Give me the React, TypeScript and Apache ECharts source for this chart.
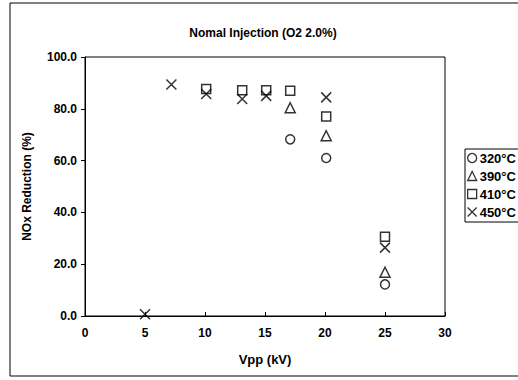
import React, { useEffect, useRef } from "react";
import * as echarts from "echarts";

const seriesNames = ["320°C", "390°C", "410°C", "450°C"];
const s320: [number, number][] = [
  [17.1, 68.2],
  [20.1, 61.0],
  [25.0, 12.2],
];
const s390: [number, number][] = [
  [17.1, 80.4],
  [20.1, 69.6],
  [25.0, 16.9],
];
const s410: [number, number][] = [
  [10.1, 87.6],
  [13.1, 87.2],
  [15.1, 87.2],
  [17.1, 87.0],
  [20.1, 77.0],
  [25.0, 30.6],
];
const s450: [number, number][] = [
  [5.0, 0.7],
  [7.2, 89.4],
  [10.1, 85.7],
  [13.1, 83.8],
  [15.1, 85.0],
  [20.1, 84.4],
  [25.0, 26.4],
];
const symbols = ["circle", "triangle", "rect", "path://M0,0L10,10M10,0L0,10"];
const symbolSizes = [9, 10, 9, 10];

export default function App() {
  const ref = useRef<HTMLDivElement>(null);
  useEffect(() => {
    if (!ref.current) return;
    const chart = echarts.init(ref.current, null, { renderer: "svg" });
    const font = "'Liberation Sans', Arial, sans-serif";
    const datas = [s320, s390, s410, s450];
    chart.setOption({
      animation: false,
      backgroundColor: "#fff",
      textStyle: { fontFamily: font },
      title: {
        text: "Nomal Injection (O2 2.0%)",
        left: 258,
        textAlign: "center",
        top: 22,
        textStyle: { fontSize: 12, fontWeight: "bold", color: "#000", fontFamily: font },
      },
      graphic: [
        {
          type: "rect",
          shape: { x: 10, y: 3, width: 520, height: 373 },
          style: { fill: "none", stroke: "#000", lineWidth: 1 },
          silent: true,
        },
      ],
      grid: {
        left: 85,
        right: 73,
        top: 57,
        bottom: 64,
        show: true,
        borderColor: "#000",
        borderWidth: 1,
      },
      legend: {
        orient: "vertical",
        left: 465,
        top: 149,
        itemWidth: 9,
        itemHeight: 9,
        itemGap: 4,
        padding: [2, 8, 3, 2],
        borderColor: "#000",
        borderWidth: 1,
        backgroundColor: "#fff",
        textStyle: { fontSize: 13, fontWeight: "bold", color: "#000", padding: [0, 0, 0, -2], lineHeight: 14 },
        data: seriesNames.map((name, i) => ({
          name,
          itemStyle: { color: "rgba(255,255,255,0)", borderColor: "#000", borderWidth: 1.3 },
        })),
      },
      xAxis: {
        type: "value",
        min: 0,
        max: 30,
        interval: 5,
        name: "Vpp (kV)",
        nameLocation: "middle",
        nameGap: 37,
        nameTextStyle: { fontSize: 13, fontWeight: "bold", color: "#000" },
        axisLine: { lineStyle: { color: "#000", width: 1 } },
        axisTick: { inside: true, length: 4, lineStyle: { color: "#000" } },
        axisLabel: { fontSize: 12, fontWeight: "bold", color: "#000", margin: 11 },
        splitLine: { show: false },
      },
      yAxis: {
        type: "value",
        min: 0,
        max: 100,
        interval: 20,
        name: "NOx Reduction (%)",
        nameLocation: "middle",
        nameGap: 52,
        nameTextStyle: { fontSize: 12, fontWeight: "bold", color: "#000" },
        axisLine: { show: true, lineStyle: { color: "#000", width: 1 } },
        axisTick: { show: true, length: 4, lineStyle: { color: "#000" } },
        axisLabel: {
          fontSize: 12,
          fontWeight: "bold",
          color: "#000",
          margin: 8,
          formatter: (v: number) => v.toFixed(1),
        },
        splitLine: { show: false },
      },
      series: seriesNames.map((name, i) => ({
        name,
        type: "scatter",
        data: datas[i],
        symbol: symbols[i],
        symbolSize: symbolSizes[i],
        itemStyle: {
          color: "rgba(255,255,255,0)",
          borderColor: "#000",
          borderWidth: 1.5,
        },
      })),
    });
    return () => chart.dispose();
  }, []);
  return (
    <div
      ref={ref}
      style={{ position: "absolute", left: 0, top: 0, width: 518, height: 380 }}
    />
  );
}
